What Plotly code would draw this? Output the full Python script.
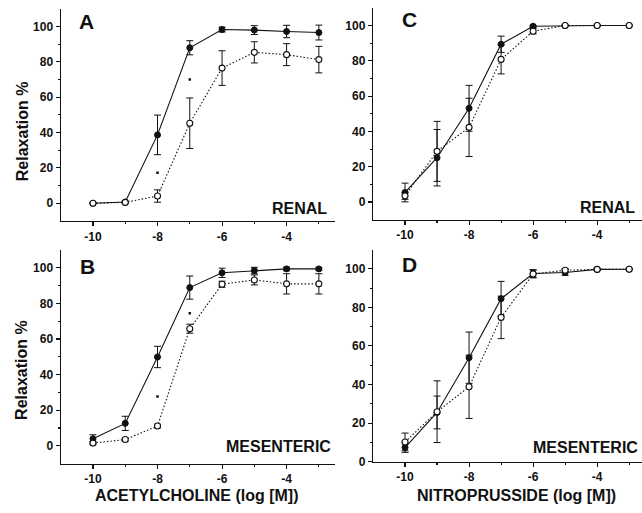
import plotly.graph_objects as go

W, H = 642, 513

# log concentration (M)
log_conc = [-10, -9, -8, -7, -6, -5, -4, -3]

# Panel A: acetylcholine, renal
a_filled = [0, 0.7, 38.7, 88.0, 98.3, 98.0, 97.2, 96.6]
a_filled_err = [0, 0.5, 11.2, 4.0, 1.4, 2.5, 3.5, 4.2]
a_open = [0, 0.5, 4.1, 45.3, 76.5, 85.4, 84.1, 81.3]
a_open_err = [0, 0.5, 3.5, 14.3, 9.8, 6.0, 6.2, 7.5]
a_sig_x = [-8, -7]
a_sig_y = [17.3, 70.0]

# Panel B: acetylcholine, mesenteric
b_filled = [3.9, 12.6, 49.9, 88.9, 97.2, 98.5, 99.4, 99.4]
b_filled_err = [2.3, 4.0, 6.0, 6.5, 2.6, 1.8, 1.0, 0.8]
b_open = [1.5, 3.5, 11.1, 65.8, 90.8, 93.2, 91.0, 91.0]
b_open_err = [1.0, 0.8, 1.0, 2.5, 1.7, 2.8, 5.7, 5.7]
b_sig_x = [-8, -7]
b_sig_y = [27.7, 74.5]

# Panel C: nitroprusside, renal
c_filled = [5.4, 25.1, 53.1, 89.4, 99.6, 100, 100, 100]
c_filled_err = [5.3, 16.0, 13.0, 4.6, 0.5, 0, 0, 0]
c_open = [3.5, 28.7, 42.3, 80.8, 96.8, 100, 100, 100]
c_open_err = [2.0, 17.0, 16.5, 8.2, 1.5, 0.5, 0.5, 0]

# Panel D: nitroprusside, mesenteric
d_filled = [7.3, 25.5, 53.9, 84.5, 97.6, 98.1, 99.7, 99.8]
d_filled_err = [2.5, 8.5, 13.3, 9.0, 2.0, 1.5, 0.5, 0.3]
d_open = [10.2, 25.9, 38.8, 74.8, 97.3, 99.3, 99.7, 99.8]
d_open_err = [4.6, 16.0, 16.4, 11.0, 2.0, 0.8, 0.5, 0.3]

x_ticks = [-10, -8, -6, -4]
x_tick_text = ["-10", "-8", "-6", "-4"]
y_ticks = [0, 20, 40, 60, 80, 100]

INK = "#111111"
FONT = "Liberation Sans, Arial, sans-serif"

fig = go.Figure()


def add_panel(n, filled, filled_err, opn, opn_err, sig_x=None, sig_y=None):
    xa = "x" if n == 1 else f"x{n}"
    ya = "y" if n == 1 else f"y{n}"
    fig.add_trace(go.Scatter(
        x=log_conc, y=filled, mode="lines+markers", xaxis=xa, yaxis=ya,
        line=dict(color=INK, width=1.1),
        marker=dict(symbol="circle", size=6, color=INK, line=dict(color=INK, width=1)),
        error_y=dict(type="data", array=filled_err, color=INK, thickness=1, width=3.5),
        showlegend=False, hoverinfo="skip"))
    fig.add_trace(go.Scatter(
        x=log_conc, y=opn, mode="lines+markers", xaxis=xa, yaxis=ya,
        line=dict(color=INK, width=1.1, dash="1.5px,2px"),
        marker=dict(symbol="circle", size=6, color="white", line=dict(color=INK, width=1.1)),
        error_y=dict(type="data", array=opn_err, color=INK, thickness=1, width=3.5),
        showlegend=False, hoverinfo="skip"))
    if sig_x is not None:
        fig.add_trace(go.Scatter(
            x=sig_x, y=sig_y, mode="markers", xaxis=xa, yaxis=ya,
            marker=dict(symbol="square", size=2.5, color=INK),
            showlegend=False, hoverinfo="skip"))


add_panel(1, a_filled, a_filled_err, a_open, a_open_err, a_sig_x, a_sig_y)
add_panel(2, b_filled, b_filled_err, b_open, b_open_err, b_sig_x, b_sig_y)
add_panel(3, c_filled, c_filled_err, c_open, c_open_err)
add_panel(4, d_filled, d_filled_err, d_open, d_open_err)


def px_x(p):
    return p / W


def px_y(p):
    return 1 - p / H


tickfont = dict(family=FONT, size=12, color=INK, weight="bold")


def xaxis(domain, rng, anchor):
    return dict(domain=domain, range=rng, anchor=anchor, showline=True, linecolor=INK,
                linewidth=1.2, ticks="outside", ticklen=4, tickcolor=INK, tickwidth=1.1,
                tickvals=x_ticks, ticktext=x_tick_text, tickfont=tickfont,
                showgrid=False, zeroline=False, fixedrange=True,
                minor=dict(tickvals=[-9, -7, -5, -3], ticks="outside", ticklen=2,
                           tickcolor=INK, showgrid=False))


def yaxis(domain, rng, anchor):
    return dict(domain=domain, range=rng, anchor=anchor, showline=True, linecolor=INK,
                linewidth=1.2, ticks="outside", ticklen=4, tickcolor=INK, tickwidth=1.1,
                tickvals=y_ticks, tickfont=tickfont, showgrid=False, zeroline=False,
                fixedrange=True,
                minor=dict(tickvals=[10, 30, 50, 70, 90], ticks="outside", ticklen=2,
                           tickcolor=INK, showgrid=False))


left_dom = [px_x(60.7), px_x(335)]
right_dom = [px_x(373), 1.0]
left_rng = [-11, -2.5]
right_rng = [-11, -2.6]

fig.update_layout(
    width=W, height=H, margin=dict(l=0, r=0, t=0, b=0),
    paper_bgcolor="white", plot_bgcolor="white",
    xaxis=xaxis(left_dom, left_rng, "y"),
    yaxis=yaxis([px_y(224), px_y(9)], [-10, 110], "x"),
    xaxis2=xaxis(left_dom, left_rng, "y2"),
    yaxis2=yaxis([px_y(470), px_y(253.5)], [-10, 110], "x2"),
    xaxis3=xaxis(right_dom, right_rng, "y3"),
    yaxis3=yaxis([px_y(222.7), px_y(8)], [-10, 110], "x3"),
    xaxis4=xaxis(right_dom, right_rng, "y4"),
    yaxis4=yaxis([px_y(468), px_y(253)], [0, 110], "x4"),
)

annots = []


def ann(text, x, y, size, bold=True, xanchor="center", angle=0):
    annots.append(dict(
        text=text, x=px_x(x), y=px_y(y), xref="paper", yref="paper",
        xanchor=xanchor, yanchor="middle", showarrow=False, textangle=angle,
        font=dict(family=FONT, size=size, color=INK, weight="bold" if bold else "normal")))


# panel letters
ann("A", 87, 22, 21)
ann("B", 88, 270, 21)
ann("C", 409.5, 20, 21)
ann("D", 409.5, 268, 21)
# tissue labels
ann("RENAL", 329, 211.5, 16, xanchor="right")
ann("RENAL", 637, 210, 16, xanchor="right")
ann("MESENTERIC", 333, 453, 16, xanchor="right")
ann("MESENTERIC", 640, 454, 16, xanchor="right")
# y titles
ann("Relaxation %", 22, 133, 16, angle=-90)
ann("Relaxation %", 22, 375, 16, angle=-90)
# x titles
ann("ACETYLCHOLINE (log [M])", 197, 502, 16)
ann("NITROPRUSSIDE (log [M])", 516, 502, 16)

fig.update_layout(annotations=annots)

fig.write_html(
    "out.html",
    config={"displayModeBar": False, "staticPlot": True},
    post_script="document.body.style.margin='0';document.body.style.overflow='hidden';",
)
